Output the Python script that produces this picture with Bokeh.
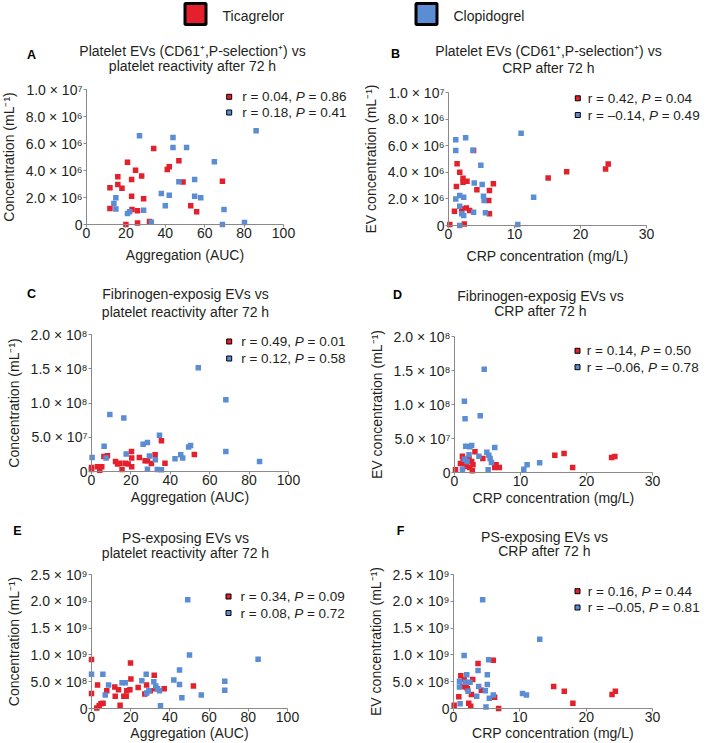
from bokeh.plotting import figure
from bokeh.models import Range1d, FixedTicker, Label
from bokeh.layouts import column, row
from bokeh.embed import file_html
from bokeh.resources import INLINE

FONT = "Liberation Sans"
TXT = "#231f20"
RED = "#e3202b"
BLUE = "#5b8dd5"
AXC = "#8a8a8a"

groups = ["Ticagrelor", "Clopidogrel"]

# ---------------- data ----------------
# A: platelet EVs vs aggregation (AUC)
a_tic_x = [11.9, 11.9, 15.9, 15.9, 18.0, 20.0, 20.8, 22.9, 22.9, 23.1, 24.9, 25.9, 25.9, 28.0, 29.0, 32.0, 34.1, 41.0, 42.0, 46.9, 49.0, 52.9, 55.9, 69.0]
a_tic_y = [2.72e6, 1.19e6, 3.53e6, 2.96e6, 2.69e6, 0.0, 4.62e6, 3.33e6, 2.10e6, 1.11e6, 4.02e6, 1.01e6, 0.12e6, 3.60e6, 1.90e6, 0.22e6, 5.63e6, 4.07e6, 4.27e6, 4.72e6, 3.14e6, 1.38e6, 0.94e6, 3.21e6]
a_clo_x = [13.9, 14.9, 14.9, 20.8, 21.9, 26.9, 29.0, 32.9, 38.0, 40.0, 42.0, 43.9, 43.9, 46.9, 50.8, 54.9, 54.9, 58.0, 64.9, 69.0, 69.8, 80.2, 86.1]
a_clo_y = [1.56e6, 1.98e6, 1.14e6, 0.81e6, 0.94e6, 6.57e6, 1.06e6, 0.17e6, 2.30e6, 1.38e6, 2.17e6, 6.44e6, 5.70e6, 3.16e6, 5.70e6, 3.33e6, 2.10e6, 1.98e6, 4.64e6, 0.0, 1.11e6, 0.15e6, 6.94e6]

# B: platelet EVs vs CRP
b_tic_x = [0.2, 0.9, 1.2, 1.3, 1.7, 2.0, 2.2, 2.2, 2.8, 2.4, 2.7, 3.2, 3.8, 4.3, 6.1, 6.2, 6.2, 6.8, 15.1, 17.9, 23.8, 24.2]
b_tic_y = [0.08e6, 1.08e6, 2.93e6, 4.65e6, 4.00e6, 1.25e6, 3.55e6, 3.25e6, 3.33e6, 0.12e6, 1.32e6, 1.12e6, 5.63e6, 2.68e6, 1.88e6, 2.63e6, 0.88e6, 3.13e6, 3.58e6, 4.05e6, 4.25e6, 4.63e6]
b_clo_x = [1.1, 1.1, 1.1, 1.7, 1.7, 1.7, 2.3, 2.0, 2.3, 2.6, 3.7, 3.8, 3.9, 4.9, 5.1, 5.3, 5.4, 5.6, 10.5, 11.0, 12.9]
b_clo_y = [6.45e6, 5.63e6, 2.00e6, 2.25e6, 1.45e6, 0.0, 2.13e6, 0.88e6, 0.75e6, 6.60e6, 5.65e6, 1.00e6, 3.20e6, 4.53e6, 3.08e6, 2.20e6, 1.88e6, 0.95e6, 0.08e6, 6.93e6, 2.13e6]

# C: fibrinogen-exposing EVs vs aggregation (AUC)
c_tic_x = [0.0, 0.0, 3.0, 4.2, 5.2, 6.3, 8.1, 12.2, 13.2, 14.4, 15.5, 17.2, 18.6, 20.3, 20.4, 20.4, 24.3, 27.2, 28.4, 30.4, 32.3, 35.5, 37.3, 52.2]
c_tic_y = [0.59e7, 0.29e7, 0.68e7, 0.20e7, 0.68e7, 2.20e7, 2.30e7, 1.47e7, 1.08e7, 1.22e7, 0.29e7, 1.22e7, 1.08e7, 2.93e7, 1.96e7, 0.68e7, 2.05e7, 1.56e7, 1.56e7, 1.17e7, 2.44e7, 4.50e7, 1.22e7, 2.49e7]
c_clo_x = [0.3, 6.4, 7.4, 9.3, 16.4, 17.6, 26.2, 28.4, 28.4, 29.4, 32.4, 33.4, 34.5, 35.5, 42.4, 45.3, 46.3, 49.3, 50.3, 54.2, 68.2, 68.2, 85.3]
c_clo_y = [2.05e7, 3.67e7, 1.96e7, 8.31e7, 7.82e7, 2.54e7, 3.96e7, 4.25e7, 0.34e7, 2.25e7, 1.71e7, 0.29e7, 5.28e7, 0.24e7, 1.86e7, 2.44e7, 1.96e7, 3.57e7, 3.81e7, 15.16e7, 10.46e7, 2.93e7, 1.47e7]

# D: fibrinogen-exposing EVs vs CRP
d_tic_x = [0.15, 0.9, 1.2, 1.3, 1.5, 1.7, 1.8, 2.2, 2.3, 2.6, 2.7, 2.8, 3.1, 4.3, 6.1, 6.3, 6.8, 15.2, 16.6, 17.9, 23.8, 24.3]
d_tic_y = [0.39e7, 1.32e7, 2.40e7, 1.96e7, 1.32e7, 1.60e7, 0.88e7, 2.06e7, 0.74e7, 1.62e7, 0.25e7, 1.13e7, 3.04e7, 2.06e7, 0.74e7, 1.13e7, 0.74e7, 2.55e7, 2.79e7, 0.74e7, 2.20e7, 2.35e7]
d_clo_x = [1.2, 1.5, 1.6, 1.7, 1.5, 1.9, 2.2, 2.3, 2.6, 3.9, 3.7, 4.5, 4.9, 5.1, 5.2, 5.4, 5.6, 6.1, 10.5, 11.0, 12.9]
d_clo_y = [0.49e7, 10.49e7, 7.89e7, 3.87e7, 1.96e7, 1.60e7, 2.60e7, 3.77e7, 3.97e7, 8.33e7, 2.40e7, 15.20e7, 2.99e7, 0.39e7, 2.55e7, 2.06e7, 1.47e7, 3.68e7, 0.49e7, 1.13e7, 1.42e7]

# E: PS-exposing EVs vs aggregation (AUC)
e_tic_x = [0.0, 0.0, 3.1, 2.7, 3.9, 4.8, 5.9, 7.8, 11.9, 12.1, 13.8, 14.6, 16.5, 17.7, 18.0, 19.6, 19.9, 20.1, 23.8, 27.2, 28.1, 30.0, 32.0, 32.8, 37.1, 52.0]
e_tic_y = [0.914e9, 0.28e9, 0.44e9, 0.01e9, 0.05e9, 0.09e9, 0.10e9, 0.33e9, 0.40e9, 0.23e9, 0.35e9, 0.06e9, 0.23e9, 0.23e9, 0.33e9, 0.35e9, 0.85e9, 0.55e9, 0.39e9, 0.27e9, 0.44e9, 0.33e9, 0.62e9, 0.37e9, 0.37e9, 0.42e9]
e_clo_x = [0.0, 5.8, 7.0, 8.7, 15.6, 17.2, 25.7, 27.9, 28.2, 29.3, 31.8, 32.8, 33.7, 34.7, 35.2, 42.0, 44.9, 44.9, 46.1, 49.1, 50.0, 56.0, 68.0, 68.0, 85.0]
e_clo_y = [0.64e9, 0.64e9, 0.25e9, 0.44e9, 0.48e9, 0.48e9, 0.52e9, 0.64e9, 0.29e9, 0.33e9, 0.50e9, 0.42e9, 0.37e9, 0.33e9, 0.05e9, 0.53e9, 0.72e9, 0.45e9, 0.20e9, 2.03e9, 1.00e9, 0.25e9, 0.51e9, 0.34e9, 0.92e9]

# F: PS-exposing EVs vs CRP
f_tic_x = [0.1, 0.8, 1.1, 1.4, 1.6, 1.9, 2.1, 2.3, 2.6, 2.7, 2.9, 3.7, 4.2, 6.0, 6.2, 6.8, 15.1, 16.7, 18.0, 23.9, 24.4]
f_tic_y = [0.06e9, 0.22e9, 0.61e9, 0.41e9, 0.54e9, 0.40e9, 0.37e9, 0.10e9, 0.04e9, 0.26e9, 0.54e9, 0.84e9, 0.34e9, 0.90e9, 0.21e9, 0.0, 0.41e9, 0.32e9, 0.10e9, 0.26e9, 0.32e9]
f_clo_x = [0.9, 0.9, 1.0, 1.6, 1.8, 2.0, 2.2, 2.5, 3.5, 3.7, 3.8, 4.4, 4.8, 4.9, 5.1, 5.1, 5.3, 5.4, 6.0, 10.4, 11.0, 13.0]
f_clo_y = [0.51e9, 0.40e9, 0.09e9, 0.99e9, 0.49e9, 0.63e9, 0.32e9, 0.49e9, 0.23e9, 0.71e9, 0.41e9, 2.03e9, 0.33e9, 0.03e9, 0.63e9, 0.45e9, 0.91e9, 0.19e9, 0.25e9, 0.28e9, 0.25e9, 1.29e9]

# correlation annotations (r, P) per panel: (Ticagrelor, Clopidogrel)
stats_r = {"A": ("0.04", "0.18"), "B": ("0.42", "\u20130.14"), "C": ("0.49", "0.12"),
           "D": ("0.14", "\u20130.06"), "E": ("0.34", "0.08"), "F": ("0.16", "\u20130.05")}
stats_p = {"A": ("0.86", "0.41"), "B": ("0.04", "0.49"), "C": ("0.01", "0.58"),
           "D": ("0.50", "0.78"), "E": ("0.09", "0.72"), "F": ("0.44", "0.81")}

titles = {
    "A": ("Platelet EVs (CD61\u207a,P-selection\u207a) vs", "platelet reactivity after 72 h"),
    "B": ("Platelet EVs (CD61\u207a,P-selection\u207a) vs", "CRP after 72 h"),
    "C": ("Fibrinogen-exposig EVs vs", "platelet reactivity after 72 h"),
    "D": ("Fibrinogen-exposig EVs vs", "CRP after 72 h"),
    "E": ("PS-exposing EVs vs", "platelet reactivity after 72 h"),
    "F": ("PS-exposing EVs vs", "CRP after 72 h"),
}
xlabel_auc = "Aggregation (AUC)"
xlabel_crp = "CRP concentration (mg/L)"
ylabel_left = "Concentration (mL\u207b\u00b9)"
ylabel_right = "EV concentration (mL\u207b\u00b9)"

auc_ticks = [0, 20, 40, 60, 80, 100]
crp_ticks = [0, 10, 20, 30]
y7_ticks = [0, 2e6, 4e6, 6e6, 8e6, 1e7]
y7_labels = ["0", "2.0 \u00d7 10\u2076", "4.0 \u00d7 10\u2076", "6.0 \u00d7 10\u2076", "8.0 \u00d7 10\u2076", "1.0 \u00d7 10\u2077"]
y8_ticks = [0, 5e7, 1e8, 1.5e8, 2e8]
y8_labels = ["0", "5.0 \u00d7 10\u2077", "1.0 \u00d7 10\u2078", "1.5 \u00d7 10\u2078", "2.0 \u00d7 10\u2078"]
y9_ticks = [0, 5e8, 1e9, 1.5e9, 2e9, 2.5e9]
y9_labels = ["0", "5.0 \u00d7 10\u2078", "1.0 \u00d7 10\u2079", "1.5 \u00d7 10\u2079", "2.0 \u00d7 10\u2079", "2.5 \u00d7 10\u2079"]

# ---------------- layout helpers ----------------
CW = {' ': 278, 'r': 333, '=': 584, '.': 278, ',': 278, 'P': 667, '\u2013': 556}
for d in "0123456789":
    CW[d] = 556


def tw(s, size):
    return sum(CW.get(c, 556) for c in s) * size / 1000.0


def make_panel(key, geom, tx, ty, cx, cy, xmax, ymax, xticks, yticks, ylabels,
               xlabel, ylabel, leg, ttl, let, xl_standoff):
    # geom: figure left/right/top/bottom and axis x0/x1, ytop/y0 in page pixels
    fl, fr, ft, fb, ax0, ax1, aytop, ay0 = geom
    kx = (ax1 - ax0) / xmax
    ky = (ay0 - aytop) / ymax
    p = figure(width=fr - fl, height=fb - ft,
               x_range=Range1d((fl - ax0) / kx, (fr - ax0) / kx),
               y_range=Range1d((ay0 - fb) / ky, (ay0 - ft) / ky),
               output_backend="svg", toolbar_location=None, min_border=0)
    p.outline_line_color = None
    p.grid.visible = False
    for ax in (p.xaxis[0], p.yaxis[0]):
        ax.fixed_location = 0
        ax.axis_line_color = AXC
        ax.major_tick_line_color = AXC
        ax.minor_tick_line_color = None
        ax.major_tick_in = 0
        ax.major_tick_out = 3
        ax.major_label_text_font = FONT
        ax.major_label_text_font_size = "14px"
        ax.major_label_text_color = TXT
        ax.axis_label_text_font = FONT
        ax.axis_label_text_font_size = "14px"
        ax.axis_label_text_font_style = "normal"
        ax.axis_label_text_color = TXT
    p.xaxis.bounds = (0, xmax)
    p.yaxis.bounds = (0, ymax)
    p.xaxis.ticker = FixedTicker(ticks=xticks)
    p.yaxis.ticker = FixedTicker(ticks=yticks)
    p.yaxis.major_label_overrides = {t: l for t, l in zip(yticks, ylabels)}
    p.xaxis.axis_label = xlabel
    p.yaxis.axis_label = ylabel
    p.xaxis.major_label_standoff = 0
    p.yaxis.major_label_standoff = 1
    p.xaxis.axis_label_standoff = xl_standoff
    p.yaxis.axis_label_standoff = 6

    p.scatter(tx, ty, marker="square", size=5.5, fill_color=RED, line_color=None)
    p.scatter(cx, cy, marker="square", size=5.5, fill_color=BLUE, line_color=None)

    # in-panel legend with statistics
    dx_sq, dx_tx, dy1, dy2 = leg
    fs = 13.5
    for i, (dy, col) in enumerate(((dy1, RED), (dy2, BLUE))):
        yy = ymax - dy / ky
        p.scatter([dx_sq / kx], [yy], marker="square", size=5, fill_color=col,
                  line_color="black", line_width=1)
        s1 = "r = " + stats_r[key][i] + ","
        s3 = "= " + stats_p[key][i]
        xx = dx_tx / kx
        off_p = tw(s1 + " ", fs)
        off_3 = off_p + tw("P ", fs)
        common = dict(y=yy, text_font=FONT, text_font_size=f"{fs}px", text_color=TXT,
                      text_baseline="middle", text_align="left")
        p.add_layout(Label(x=xx, text=s1, **common))
        p.add_layout(Label(x=xx, x_offset=off_p, text="P", text_font_style="italic", **common))
        p.add_layout(Label(x=xx, x_offset=off_3, text=s3, **common))

    # titles
    dx_t, dyt1, dyt2 = ttl
    for txt, dy in ((titles[key][0], dyt1), (titles[key][1], dyt2)):
        p.add_layout(Label(x=dx_t / kx, y=ymax, y_offset=-dy, text=txt, text_font=FONT,
                           text_font_size="14px", text_color=TXT, text_align="center",
                           text_baseline="middle"))
    dx_l, dy_l = let
    p.add_layout(Label(x=dx_l / kx, y=ymax, y_offset=-dy_l, text=key, text_font=FONT,
                       text_font_size="12.5px", text_font_style="bold", text_color="black",
                       text_align="center", text_baseline="middle"))
    return p


R1 = (38, 280)
R2 = (280, 515)
R3 = (515, 743)
pA = make_panel("A", (0, 354, R1[0], R1[1], 86, 283, 89, 224), a_tic_x, a_tic_y, a_clo_x, a_clo_y,
                100, 1e7, auc_ticks, y7_ticks, y7_labels, xlabel_auc, ylabel_left,
                (142.7, 155.7, 7.3, 23), (106, -39, -24), (-55, -35), 6)
pB = make_panel("B", (354, 709, R1[0], R1[1], 448, 646, 92, 225), b_tic_x, b_tic_y, b_clo_x, b_clo_y,
                30, 1e7, crp_ticks, y7_ticks, y7_labels, xlabel_crp, ylabel_right,
                (129.3, 139.3, 5.8, 22.5), (100, -42, -25), (-53, -38.7), 6)
pC = make_panel("C", (0, 354, R2[0], R2[1], 91, 288, 334, 471), c_tic_x, c_tic_y, c_clo_x, c_clo_y,
                100, 2e8, auc_ticks, y8_ticks, y8_labels, xlabel_auc, ylabel_left,
                (137.7, 149.7, 7, 24), (94, -41, -23), (-60, -40.5), 1)
pD = make_panel("D", (354, 709, R2[0], R2[1], 454, 652, 336, 472), d_tic_x, d_tic_y, d_clo_x, d_clo_y,
                30, 2e8, crp_ticks, y8_ticks, y8_labels, xlabel_crp, ylabel_right,
                (123, 132.3, 14.3, 30.7), (86, -41, -26), (-57, -42), 1)
pE = make_panel("E", (0, 354, R3[0], R3[1], 91, 287, 574, 708), e_tic_x, e_tic_y, e_clo_x, e_clo_y,
                100, 2.5e9, auc_ticks, y9_ticks, y9_labels, xlabel_auc, ylabel_left,
                (137, 149, 22, 38.5), (94, -37, -22), (-74, -43.5), 0)
pF = make_panel("F", (354, 709, R3[0], R3[1], 453, 652, 574, 708), f_tic_x, f_tic_y, f_clo_x, f_clo_y,
                30, 2.5e9, crp_ticks, y9_ticks, y9_labels, xlabel_crp, ylabel_right,
                (124, 134.3, 16.7, 33), (91, -38, -24), (-53, -43.5), 0)

# top legend
LH = R1[0]
leg = figure(width=709, height=LH, x_range=Range1d(0, 709), y_range=Range1d(LH, 0),
             x_axis_type=None, y_axis_type=None, output_backend="svg", toolbar_location=None,
             min_border=0)
leg.outline_line_color = None
leg.grid.visible = False
leg_sq_x = [195, 426]
leg_tx_x = [222, 453]
leg.scatter(leg_sq_x, [13.5, 13.5], marker="square", size=21, fill_color=[RED, BLUE],
            line_color="black", line_width=3)
for gx, g in zip(leg_tx_x, groups):
    leg.add_layout(Label(x=gx, y=15, text=g, text_font=FONT, text_font_size="14px",
                         text_color=TXT, text_baseline="middle", text_align="left"))

layout = column(leg, row(pA, pB), row(pC, pD), row(pE, pF))
open("out.html", "w").write(file_html(layout, INLINE))
